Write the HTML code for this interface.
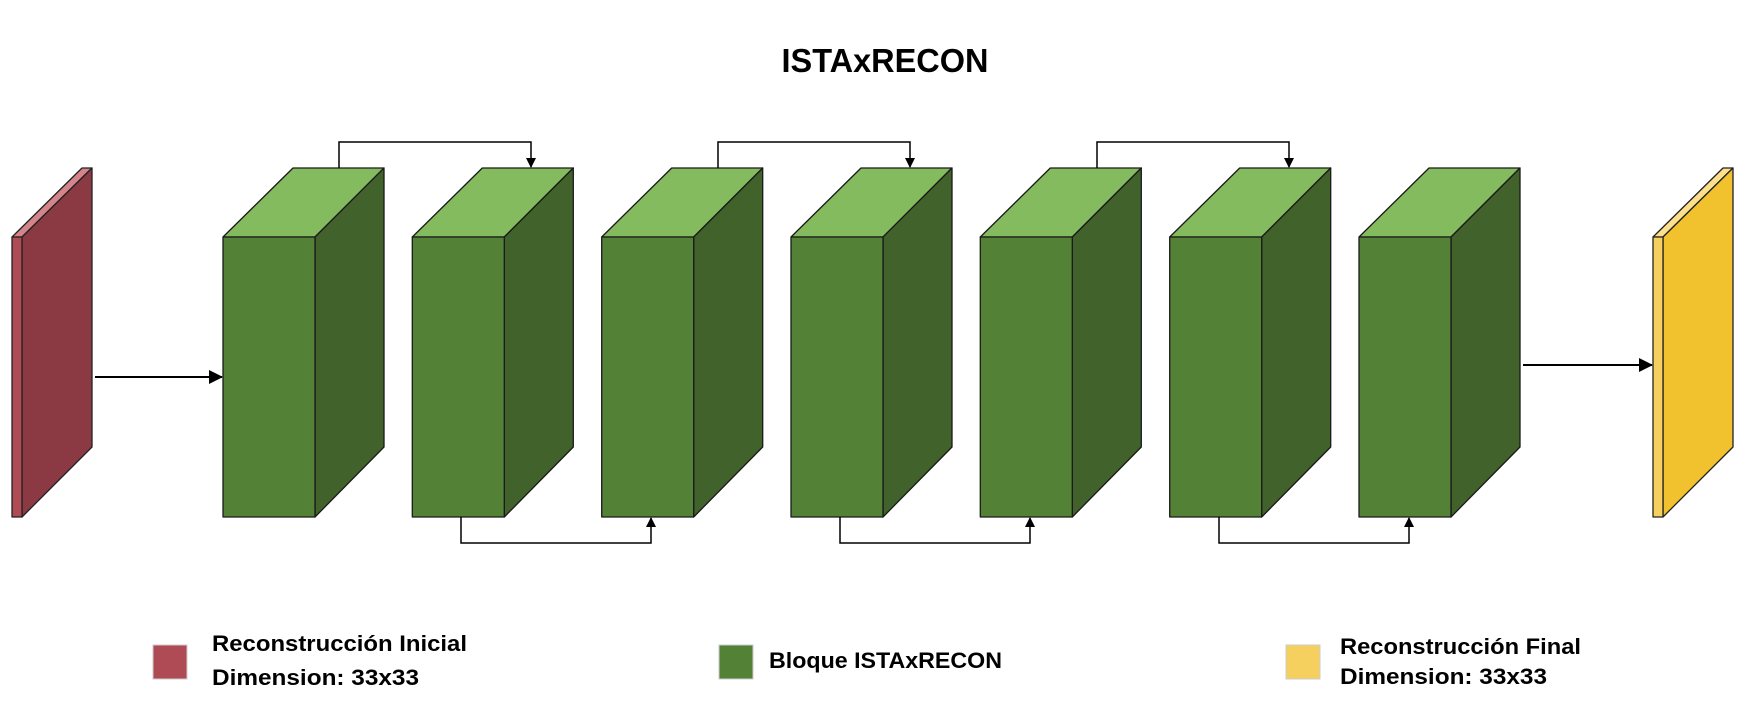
<!DOCTYPE html>
<html><head><meta charset="utf-8"><style>html,body{margin:0;padding:0;background:#fff}svg{display:block}</style></head>
<body>
<svg width="1744" height="715" viewBox="0 0 1744 715" xmlns="http://www.w3.org/2000/svg" font-family="'Liberation Sans', sans-serif">
<defs><marker id="a" markerWidth="10" markerHeight="10" refX="9" refY="5" orient="auto" markerUnits="userSpaceOnUse"><path d="M0,0 L10,5 L0,10 z" fill="#000"/></marker>
<marker id="b" markerWidth="14" markerHeight="14" refX="13" refY="7" orient="auto" markerUnits="userSpaceOnUse"><path d="M0,0 L14,7 L0,14 z" fill="#000"/></marker></defs>
<text x="885" y="72" font-size="33" font-weight="bold" text-anchor="middle" textLength="207" lengthAdjust="spacingAndGlyphs">ISTAxRECON</text>
<g stroke="#222" stroke-width="1.3" stroke-linejoin="round">
<polygon points="12,237 82,168 92,168 22,237" fill="#d4848a"/>
<polygon points="22,237 92,168 92,447 22,517" fill="#8b3a44"/>
<rect x="12" y="237" width="10" height="280" fill="#ae4b55"/>
<polygon points="1653,237 1723,168 1733,168 1663,237" fill="#fde08c"/>
<polygon points="1663,237 1733,168 1733,447 1663,517" fill="#f2c12e"/>
<rect x="1653" y="237" width="10" height="280" fill="#f6d05e"/>
</g>
<g stroke="#1a1a1a" stroke-width="1.3" stroke-linejoin="round">
<g id="c"><polygon points="223,237 293,168 384,168 315,237" fill="#84bb5e"/><polygon points="315,237 384,168 384,447 315,517" fill="#41622a"/><rect x="223" y="237" width="92" height="280" fill="#538136"/></g>
<use href="#c" x="189.3"/><use href="#c" x="378.7"/><use href="#c" x="568"/><use href="#c" x="757.3"/><use href="#c" x="946.7"/><use href="#c" x="1136"/>
</g>
<g stroke="#000" stroke-width="1.5" fill="none">
<line x1="95" y1="377" x2="222" y2="377" stroke-width="2" marker-end="url(#b)"/>
<line x1="1523" y1="365" x2="1652" y2="365" stroke-width="2" marker-end="url(#b)"/>
<polyline points="339,168 339,142 531,142 531,167" marker-end="url(#a)"/>
<polyline points="718,168 718,142 910,142 910,167" marker-end="url(#a)"/>
<polyline points="1097,168 1097,142 1289,142 1289,167" marker-end="url(#a)"/>
<polyline points="461,517 461,543 651,543 651,518" marker-end="url(#a)"/>
<polyline points="840,517 840,543 1030,543 1030,518" marker-end="url(#a)"/>
<polyline points="1219,517 1219,543 1409,543 1409,518" marker-end="url(#a)"/>
</g>
<rect x="153" y="645" width="34" height="34" fill="#ae4b55" stroke="#ccc"/>
<rect x="719" y="645" width="34" height="34" fill="#538136" stroke="#ccc"/>
<rect x="1286" y="645" width="34" height="34" fill="#f6d05e" stroke="#ccc"/>
<g font-size="22" font-weight="bold" fill="#000">
<text x="212" y="651" textLength="255" lengthAdjust="spacingAndGlyphs">Reconstrucción Inicial</text>
<text x="212" y="685" textLength="207" lengthAdjust="spacingAndGlyphs">Dimension: 33x33</text>
<text x="769" y="668" textLength="233" lengthAdjust="spacingAndGlyphs">Bloque ISTAxRECON</text>
<text x="1340" y="654" textLength="241" lengthAdjust="spacingAndGlyphs">Reconstrucción Final</text>
<text x="1340" y="684" textLength="207" lengthAdjust="spacingAndGlyphs">Dimension: 33x33</text>
</g>
</svg>
</body></html>
